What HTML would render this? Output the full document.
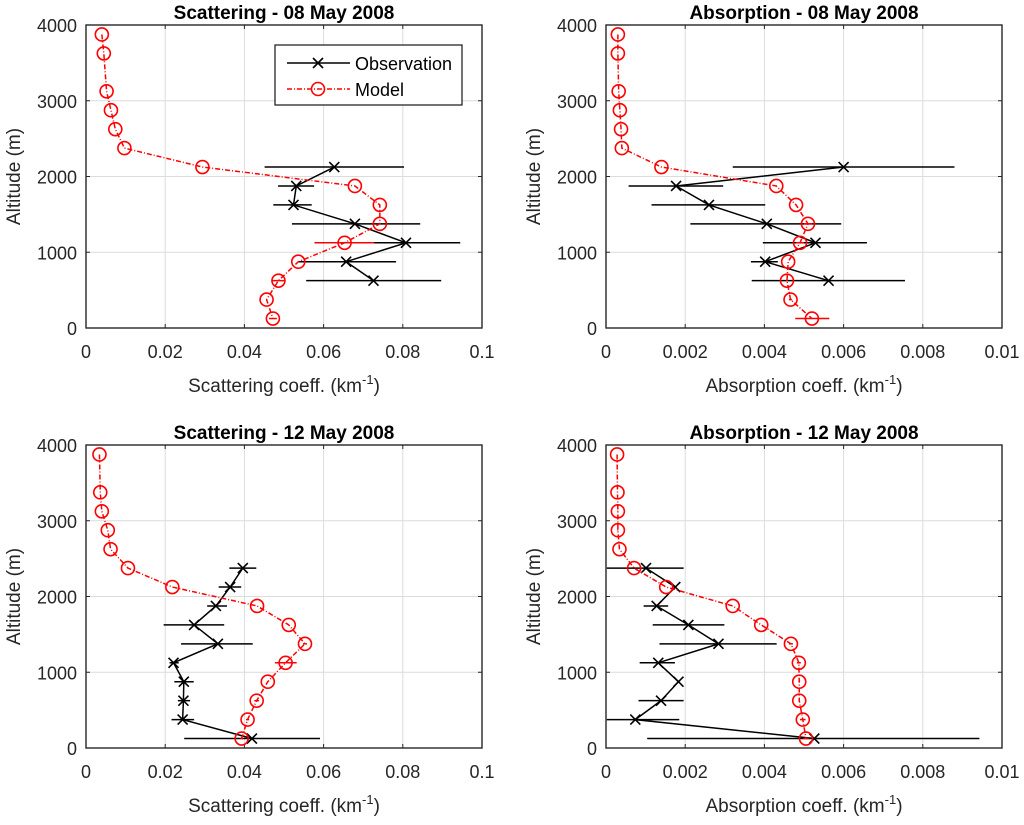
<!DOCTYPE html>
<html><head><meta charset="utf-8"><style>
body{margin:0;background:#fff;font-family:"Liberation Sans",sans-serif}
svg text{font-family:"Liberation Sans",sans-serif}
</style></head><body>
<svg id="fig" width="1024" height="820" xmlns="http://www.w3.org/2000/svg"></svg>
<script>
// ---- data ----
const ticksY=[0,1000,2000,3000,4000];
const ticksXScat=[0,0.02,0.04,0.06,0.08,0.1];
const ticksXAbs=[0,0.002,0.004,0.006,0.008,0.01];
// Panel 1: Scattering 08 May
const p1ModAlt=[3875,3625,3125,2875,2625,2375,2125,1875,1625,1375,1125,875,625,375,125];
const p1ModVal=[0.0040,0.0045,0.0052,0.0063,0.0074,0.0097,0.0294,0.0679,0.0742,0.0742,0.0653,0.0536,0.0486,0.0456,0.0472];
const p1ModLo=[0.0040,0.0045,0.0052,0.0063,0.0074,0.0097,0.0294,0.0679,0.0742,0.0742,0.0577,0.0536,0.0470,0.0456,0.0462];
const p1ModHi=[0.0040,0.0045,0.0052,0.0063,0.0074,0.0097,0.0294,0.0679,0.0742,0.0742,0.0728,0.0536,0.0502,0.0456,0.0482];
const p1ObsAlt=[2125,1875,1625,1375,1125,875,625];
const p1ObsVal=[0.0627,0.0531,0.0524,0.0679,0.0808,0.0657,0.0726];
const p1ObsLo=[0.0451,0.0485,0.0473,0.0520,0.0577,0.0535,0.0556];
const p1ObsHi=[0.0803,0.0576,0.0570,0.0844,0.0945,0.0783,0.0897];
// Panel 2: Absorption 08 May
const p2ModAlt=[3875,3625,3125,2875,2625,2375,2125,1875,1625,1375,1125,875,625,375,125];
const p2ModVal=[0.0003,0.0003,0.00032,0.00035,0.00038,0.0004,0.0014,0.0043,0.0048,0.0051,0.0049,0.0046,0.00457,0.00466,0.0052];
const p2ModLo=[0.0003,0.0003,0.00032,0.00035,0.00038,0.0004,0.0014,0.0043,0.0048,0.0050,0.0048,0.0046,0.00455,0.00462,0.00478];
const p2ModHi=[0.0003,0.0003,0.00032,0.00035,0.00038,0.0004,0.0014,0.0043,0.0048,0.0052,0.0050,0.0046,0.00459,0.00470,0.00564];
const p2ObsAlt=[2125,1875,1625,1375,1125,875,625];
const p2ObsVal=[0.0060,0.00177,0.0026,0.00406,0.00529,0.00402,0.00562];
const p2ObsLo=[0.0032,0.00057,0.00115,0.00213,0.00396,0.00366,0.00368];
const p2ObsHi=[0.0088,0.00296,0.00402,0.00594,0.00659,0.00434,0.00755];
// Panel 3: Scattering 12 May
const p3ModAlt=[3875,3375,3125,2875,2625,2375,2125,1875,1625,1375,1125,875,625,375,125];
const p3ModVal=[0.0034,0.0036,0.0040,0.0055,0.0062,0.0106,0.0218,0.0432,0.0512,0.0553,0.0504,0.0459,0.0431,0.0408,0.0393];
const p3ModLo=[0.0034,0.0036,0.0040,0.0055,0.0062,0.0106,0.0218,0.0432,0.0512,0.0548,0.0477,0.0459,0.0425,0.0404,0.0390];
const p3ModHi=[0.0034,0.0036,0.0040,0.0055,0.0062,0.0106,0.0218,0.0432,0.0512,0.0558,0.0532,0.0459,0.0437,0.0412,0.0396];
const p3ObsAlt=[2375,2125,1875,1625,1375,1125,875,625,375,125];
const p3ObsVal=[0.0396,0.0364,0.0328,0.0273,0.0333,0.0221,0.0247,0.0246,0.0244,0.0419];
const p3ObsLo=[0.0362,0.0335,0.0306,0.0196,0.0240,0.0211,0.0223,0.0232,0.0216,0.0248];
const p3ObsHi=[0.0430,0.0392,0.0356,0.0349,0.0421,0.0234,0.0272,0.0263,0.0273,0.0591];
// Panel 4: Absorption 12 May
const p4ModAlt=[3875,3375,3125,2875,2625,2375,2125,1875,1625,1375,1125,875,625,375,125];
const p4ModVal=[0.00028,0.00029,0.0003,0.0003,0.00034,0.00071,0.00152,0.0032,0.00392,0.00467,0.00487,0.00488,0.00488,0.00497,0.00505];
const p4ModLo=[0.00028,0.00029,0.00029,0.00029,0.00034,0.00071,0.00152,0.0032,0.00392,0.00462,0.00482,0.00486,0.00486,0.00490,0.00498];
const p4ModHi=[0.00028,0.00029,0.00031,0.00031,0.00034,0.00071,0.00152,0.0032,0.00392,0.00472,0.00492,0.00490,0.00490,0.00504,0.00512];
const p4ObsAlt=[2375,2125,1875,1625,1375,1125,875,625,375,125];
const p4ObsVal=[0.00101,0.00175,0.00128,0.00208,0.00284,0.00132,0.00183,0.00139,0.00074,0.00526];
const p4ObsLo=[0.00002,0.00175,0.00095,0.00118,0.00135,0.00085,0.00183,0.00082,0.00002,0.00104];
const p4ObsHi=[0.00196,0.00175,0.00157,0.00299,0.00431,0.00174,0.00183,0.00196,0.00185,0.00943];

const NS='http://www.w3.org/2000/svg';
const svg=document.getElementById('fig');
function mk(tag,attrs,parent){const e=document.createElementNS(NS,tag);for(const k in attrs)e.setAttribute(k,attrs[k]);(parent||svg).appendChild(e);return e;}

function panel(id,L,R,T,B,xmax,xt,xtLabels,title,xlab,m,o,legend){
  const g=mk('g',{});
  
  
  const xs=v=>L+(R-L)*v/xmax, ys=v=>B-(B-T)*v/4000;
  xt.forEach((v,i)=>{
    if(i>0&&i<xt.length-1){const gl=mk('line',{x1:xs(v),x2:xs(v),y1:T,y2:B,stroke:'#dcdcdc','stroke-width':1},g);}
    mk('line',{x1:xs(v),x2:xs(v),y1:B,y2:B-4,stroke:'#262626'},g);
    mk('line',{x1:xs(v),x2:xs(v),y1:T,y2:T+4,stroke:'#262626'},g);
    const t=mk('text',{x:xs(v),y:B+30,'text-anchor':'middle','font-size':18,fill:'#262626'},g);t.textContent=xtLabels[i];
    
  });
  ticksY.forEach((v,i)=>{
    if(i>0&&i<4){const gl=mk('line',{x1:L,x2:R,y1:ys(v),y2:ys(v),stroke:'#dcdcdc'},g);}
    mk('line',{x1:L,x2:L+4,y1:ys(v),y2:ys(v),stroke:'#262626'},g);
    mk('line',{x1:R,x2:R-4,y1:ys(v),y2:ys(v),stroke:'#262626'},g);
    const t=mk('text',{x:L-9,y:ys(v)+7,'text-anchor':'end','font-size':18,fill:'#262626'},g);t.textContent=v;
    
  });
  const box=mk('rect',{x:L,y:T,width:R-L,height:B-T,fill:'none',stroke:'#262626','stroke-width':1.4},g);
  
  const tt=mk('text',{x:(L+R)/2,y:T-6,'text-anchor':'middle','font-size':19,'font-weight':'bold',fill:'#000'},g);tt.textContent=title;
  
  const xl=mk('text',{x:(L+R)/2,y:B+64,'text-anchor':'middle','font-size':19,fill:'#262626'},g);
  xl.innerHTML=xlab+' (km<tspan dy="-8" font-size="13">-1</tspan><tspan dy="8">)</tspan>';
  
  const yl=mk('text',{x:0,y:0,transform:`translate(${L-66},${(T+B)/2}) rotate(-90)`,'text-anchor':'middle','font-size':19,fill:'#262626'},g);yl.textContent='Altitude (m)';
  
  function series(alt,val,lo,hi,color,dash,marker,name){
    const sg=mk('g',{},g);
    
    
    alt.forEach((a,i)=>{const y=ys(a);
      if(hi[i]-lo[i]>0){const eb=mk('line',{x1:xs(lo[i]),x2:xs(hi[i]),y1:y,y2:y,stroke:color,'stroke-width':1.5},sg);}});
    const pts=alt.map((a,i)=>xs(val[i])+','+ys(a)).join(' ');
    const pl=mk('polyline',{points:pts,fill:'none',stroke:color,'stroke-width':1.5,'stroke-dasharray':dash},sg);
    
    alt.forEach((a,i)=>{const x=xs(val[i]),y=ys(a);
      if(marker==='o'){const c=mk('circle',{cx:x,cy:y,r:6.5,fill:'none',stroke:color,'stroke-width':1.6},sg);}
      else{const p=mk('path',{d:`M${x-5},${y-5}L${x+5},${y+5}M${x-5},${y+5}L${x+5},${y-5}`,stroke:color,'stroke-width':1.6},sg);}
    });
  }
  series(o[0],o[1],o[2],o[3],'#000','','x','observation');
  series(m[0],m[1],m[2],m[3],'#ff0000','5,2,1,2','o','model');
  if(legend){
    const lg=mk('g',{},g);
    
    
    mk('rect',{x:275,y:45,width:187,height:60,fill:'#fff',stroke:'#262626','stroke-width':1.3},lg);
    mk('line',{x1:287,x2:350,y1:63,y2:63,stroke:'#000','stroke-width':1.5},lg);
    mk('path',{d:'M313,58L323,68M313,68L323,58',stroke:'#000','stroke-width':1.6},lg);
    const t1=mk('text',{x:355,y:70,'font-size':18,fill:'#000'},lg);t1.textContent='Observation';
    
    mk('line',{x1:287,x2:350,y1:89,y2:89,stroke:'#ff0000','stroke-width':1.5,'stroke-dasharray':'5,2,1,2'},lg);
    mk('circle',{cx:318,cy:89,r:6.5,fill:'none',stroke:'#ff0000','stroke-width':1.6},lg);
    const t2=mk('text',{x:355,y:96,'font-size':18,fill:'#000'},lg);t2.textContent='Model';
    
  }
}
const scatLab=['0','0.02','0.04','0.06','0.08','0.1'];
const absLab=['0','0.002','0.004','0.006','0.008','0.01'];
panel('scattering-08-may',86,482,25,328,0.1,ticksXScat,scatLab,'Scattering - 08 May 2008','Scattering coeff.',[p1ModAlt,p1ModVal,p1ModLo,p1ModHi],[p1ObsAlt,p1ObsVal,p1ObsLo,p1ObsHi],true);
panel('absorption-08-may',606,1002,25,328,0.01,ticksXAbs,absLab,'Absorption - 08 May 2008','Absorption coeff.',[p2ModAlt,p2ModVal,p2ModLo,p2ModHi],[p2ObsAlt,p2ObsVal,p2ObsLo,p2ObsHi],false);
panel('scattering-12-may',86,482,445,748,0.1,ticksXScat,scatLab,'Scattering - 12 May 2008','Scattering coeff.',[p3ModAlt,p3ModVal,p3ModLo,p3ModHi],[p3ObsAlt,p3ObsVal,p3ObsLo,p3ObsHi],false);
panel('absorption-12-may',606,1002,445,748,0.01,ticksXAbs,absLab,'Absorption - 12 May 2008','Absorption coeff.',[p4ModAlt,p4ModVal,p4ModLo,p4ModHi],[p4ObsAlt,p4ObsVal,p4ObsLo,p4ObsHi],false);
</script>
</body></html>
